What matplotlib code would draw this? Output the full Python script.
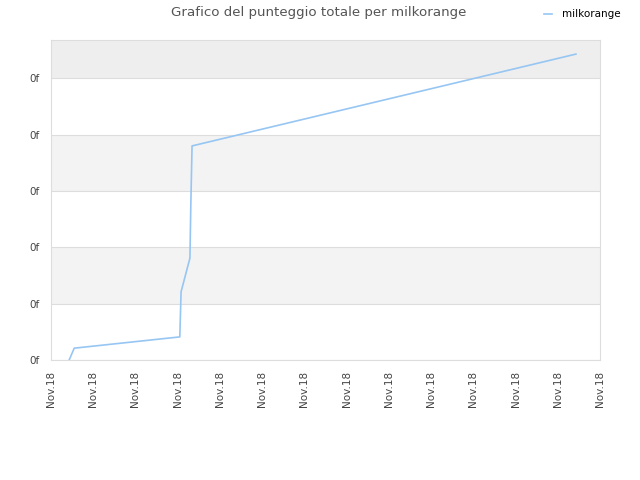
import matplotlib.pyplot as plt

# step positions along the x axis (tick index units) and the running total
x_vals = [0.43, 0.55, 3.05, 3.08, 3.29, 3.31, 3.34, 12.43]
y_vals = [0.0, 0.21, 0.41, 1.21, 1.81, 2.72, 3.80, 5.43]
x_ticks = list(range(14))
x_labels = ["Nov.18"] * 14
y_ticks = [0, 1, 2, 3, 4, 5]
y_labels = ["0f"] * 6

fig = plt.figure(figsize=(6.4, 4.8), dpi=100)
ax = fig.add_axes([51 / 640, 120 / 480, 549 / 640, 320 / 480])

ymax = 5.68
# alternating background bands
bands = [(1, 2, "#f3f3f3"), (3, 4, "#f3f3f3"), (5, ymax, "#eeeeee")]
for lo, hi, col in bands:
    ax.axhspan(lo, hi, color=col, zorder=0, lw=0)

ax.plot(x_vals, y_vals, color="#97c6f3", lw=1.2, label="milkorange", zorder=3)

ax.set_xlim(0, 13)
ax.set_ylim(0, ymax)
ax.set_xticks(x_ticks)
ax.set_xticklabels(x_labels, rotation=90, fontsize=7.5, color="#444444")
ax.set_yticks(y_ticks)
ax.set_yticklabels(y_labels, fontsize=7.5, color="#444444")
ax.tick_params(length=0, pad=8)
ax.grid(axis="y", color="#dddddd", lw=0.8, zorder=1)
for s in ax.spines.values():
    s.set_color("#dddddd")

fig.text(0.498, 0.988, "Grafico del punteggio totale per milkorange",
         ha="center", va="top", fontsize=9.6, color="#555555")
fig.legend(loc="upper right", bbox_to_anchor=(0.985, 1.0), frameon=False,
           fontsize=7.5, handlelength=0.8, handletextpad=1.0)

fig.savefig("out.png", dpi=100)
